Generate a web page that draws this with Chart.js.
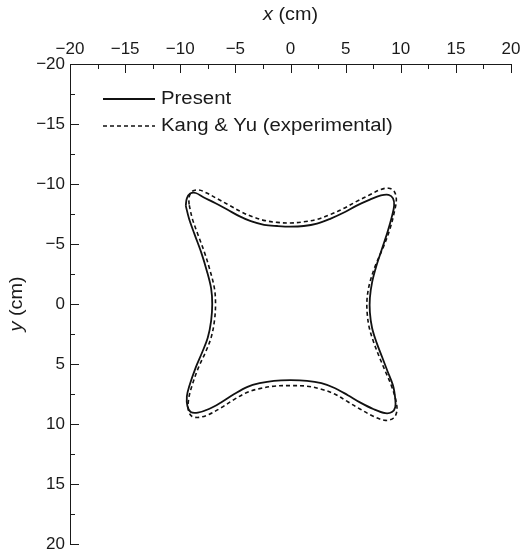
<!DOCTYPE html>
<html>
<head>
  <title>Present vs Kang &amp; Yu</title>
  <script src="https://cdn.jsdelivr.net/npm/chart.js@4/dist/chart.umd.min.js"></script>
  <style>
    html, body {
      margin: 0;
      padding: 0;
      background: #fff;
    }
  </style>
</head>
<body>
<canvas id="shapeChart" width="520" height="550"></canvas>

<script>
  // axis range and tick spacing (cm)
  const axisMin = -20;
  const axisMax = 20;
  const majorStep = 5;
  const minorStep = 2.5;

  // Present (solid), traced clockwise from the top-left corner
  const presentX = [-9.5, -9.4, -9.1, -8.6, -7.9, -6.8, -5.7, -4.6, -3.6, -2.4, -1.2, 0, 1.2, 2.4, 3.6, 4.8, 6.0, 7.2, 8.2, 8.9, 9.3, 9.4,
    9.2, 8.8, 8.3, 7.8, 7.4, 7.2, 7.2, 7.4, 7.8, 8.3, 8.8, 9.3, 9.5, 9.5, 9.2, 8.6,
    7.5, 6.3, 5.2, 4.0, 2.8, 1.5, 0, -1.5, -2.8, -3.9, -5.1, -6.3, -7.4, -8.4, -9.05, -9.35, -9.4,
    -9.2, -8.6, -8.0, -7.5, -7.2, -7.1, -7.2, -7.6, -8.1, -8.7, -9.2, -9.5];
  const presentY = [-8.2, -8.8, -9.2, -9.25, -8.9, -8.4, -7.85, -7.3, -6.9, -6.6, -6.5, -6.45, -6.5, -6.7, -7.1, -7.6, -8.2, -8.7, -9.05, -9.1, -8.8, -8.2,
    -7.3, -6.0, -4.6, -3.2, -1.8, -0.5, 0.7, 2.0, 3.2, 4.4, 5.6, 6.8, 7.9, 8.6, 9.0, 9.1,
    8.75, 8.2, 7.6, 7.0, 6.6, 6.4, 6.35, 6.4, 6.6, 6.9, 7.5, 8.2, 8.75, 9.05, 9.0, 8.5, 7.7,
    6.9, 5.3, 4.0, 2.8, 1.4, 0, -1.3, -2.8, -4.3, -5.8, -7.1, -8.2];

  // Kang & Yu (experimental, dashed)
  const kangX = [-9.2, -9.2, -8.9, -8.3, -7.6, -6.6, -5.5, -4.4, -3.4, -2.3, -1.2, 0, 1.2, 2.4, 3.6, 4.8, 6.0, 7.2, 8.2, 8.9, 9.4, 9.6,
    9.4, 9.0, 8.4, 7.7, 7.2, 6.95, 6.95, 7.15, 7.55, 8.05, 8.6, 9.15, 9.55, 9.65, 9.35, 8.6,
    7.5, 6.3, 5.2, 4.0, 2.8, 1.5, 0, -1.5, -2.8, -3.9, -5.1, -6.3, -7.4, -8.3, -8.95, -9.25, -9.25,
    -9.0, -8.35, -7.7, -7.2, -6.9, -6.8, -6.9, -7.3, -7.8, -8.4, -8.9, -9.2];
  const kangY = [-8.3, -8.9, -9.4, -9.5, -9.25, -8.75, -8.2, -7.65, -7.25, -6.95, -6.8, -6.75, -6.85, -7.05, -7.45, -7.95, -8.55, -9.1, -9.55, -9.65, -9.4, -8.7,
    -7.6, -6.2, -4.7, -3.2, -1.8, -0.5, 0.7, 2.0, 3.2, 4.4, 5.6, 6.8, 8.0, 8.9, 9.5, 9.7,
    9.35, 8.75, 8.15, 7.5, 7.1, 6.85, 6.8, 6.85, 7.05, 7.35, 7.95, 8.65, 9.2, 9.45, 9.35, 8.9, 8.0,
    7.0, 5.3, 4.0, 2.8, 1.4, 0, -1.3, -2.8, -4.3, -5.8, -7.1, -8.3];

  const FONT = 'Liberation Sans, Arial, Helvetica, sans-serif';
  const INK = '#1a1a1a';

  function toPoints(xs, ys) {
    return xs.map((x, i) => ({ x: x, y: ys[i] }));
  }

  function tickLabel(value) {
    if (value % majorStep !== 0) return '';
    return String(value).replace('-', '\u2212');
  }

  // the original lettering is a bit wider than Liberation Sans
  function wideText(ctx, text, x, y, stretch) {
    ctx.save();
    ctx.translate(x, y);
    ctx.scale(stretch, 1);
    ctx.fillText(text, 0, 0);
    ctx.restore();
    return ctx.measureText(text).width * stretch;
  }

  // short inward ticks, longer on the labelled ones
  const inwardTicks = {
    id: 'inwardTicks',
    afterDraw(chart) {
      const { ctx, chartArea: a } = chart;
      const xs = chart.scales.x;
      const ys = chart.scales.y;
      ctx.save();
      ctx.strokeStyle = INK;
      ctx.lineWidth = 1;
      xs.ticks.forEach(t => {
        const px = Math.round(xs.getPixelForValue(t.value)) + 0.5;
        const len = t.value % majorStep === 0 ? 9 : 5;
        ctx.beginPath();
        ctx.moveTo(px, a.top);
        ctx.lineTo(px, a.top + len);
        ctx.stroke();
      });
      ys.ticks.forEach(t => {
        const py = Math.round(ys.getPixelForValue(t.value)) + 0.5;
        const len = t.value % majorStep === 0 ? 9 : 5;
        ctx.beginPath();
        ctx.moveTo(a.left, py);
        ctx.lineTo(a.left + len, py);
        ctx.stroke();
      });
      ctx.restore();
    }
  };

  // axis titles with the italic variable name
  const axisTitles = {
    id: 'axisTitles',
    afterDraw(chart) {
      const { ctx, chartArea: a } = chart;
      const k = 1.1;
      ctx.save();
      ctx.fillStyle = INK;
      ctx.textBaseline = 'middle';
      ctx.textAlign = 'left';

      function drawTitle(cx, cy, v) {
        ctx.font = 'italic 18px ' + FONT;
        const w1 = ctx.measureText(v).width * k;
        ctx.font = '18px ' + FONT;
        const w2 = ctx.measureText(' (cm)').width * k;
        const x0 = cx - (w1 + w2) / 2;
        ctx.font = 'italic 18px ' + FONT;
        wideText(ctx, v, x0, cy, k);
        ctx.font = '18px ' + FONT;
        wideText(ctx, ' (cm)', x0 + w1, cy, k);
      }

      drawTitle((a.left + a.right) / 2, 15, 'x');
      ctx.translate(17, (a.top + a.bottom) / 2);
      ctx.rotate(-Math.PI / 2);
      drawTitle(0, 0, 'y');
      ctx.restore();
    }
  };

  // legend sitting inside the plot, top left
  const innerLegend = {
    id: 'innerLegend',
    afterDraw(chart) {
      const { ctx } = chart;
      ctx.save();
      ctx.font = '18px ' + FONT;
      ctx.textBaseline = 'middle';
      ctx.textAlign = 'left';
      chart.data.datasets.forEach((ds, i) => {
        const yy = 99 + i * 27;
        ctx.strokeStyle = ds.borderColor;
        ctx.lineWidth = ds.borderWidth;
        ctx.setLineDash(ds.borderDash || []);
        ctx.beginPath();
        ctx.moveTo(103, yy);
        ctx.lineTo(155, yy);
        ctx.stroke();
        ctx.setLineDash([]);
        ctx.fillStyle = INK;
        wideText(ctx, ds.label, 161, yy, 1.13);
      });
      ctx.restore();
    }
  };

  const ctx = document.getElementById('shapeChart').getContext('2d');
  const chart = new Chart(ctx, {
    type: 'scatter',
    data: {
      datasets: [
        {
          label: 'Present',
          data: toPoints(presentX, presentY),
          showLine: true,
          borderColor: '#111',
          borderWidth: 1.8,
          pointRadius: 0,
          tension: 0.35,
          fill: false
        },
        {
          label: 'Kang & Yu (experimental)',
          data: toPoints(kangX, kangY),
          showLine: true,
          borderColor: '#111',
          borderWidth: 1.6,
          borderDash: [4, 3],
          pointRadius: 0,
          tension: 0.35,
          fill: false
        }
      ]
    },
    options: {
      responsive: false,
      animation: false,
      layout: {
        padding: { left: 0, right: 9, top: 0, bottom: 6 }
      },
      plugins: {
        legend: { display: false },
        tooltip: { enabled: false }
      },
      scales: {
        x: {
          type: 'linear',
          position: 'top',
          min: axisMin,
          max: axisMax,
          afterFit: s => {
            s.height = 64;
            s.paddingLeft = 0;
            s.paddingRight = 0;
          },
          grid: { display: false, drawTicks: false },
          border: { display: true, color: INK, width: 1 },
          ticks: {
            stepSize: minorStep,
            autoSkip: false,
            maxRotation: 0,
            padding: 4,
            color: INK,
            font: { family: FONT, size: 17 },
            callback: tickLabel
          }
        },
        y: {
          type: 'linear',
          reverse: true,
          min: axisMin,
          max: axisMax,
          afterFit: s => {
            s.width = 70;
            s.paddingTop = 0;
            s.paddingBottom = 0;
          },
          grid: { display: false, drawTicks: false },
          border: { display: true, color: INK, width: 1 },
          ticks: {
            stepSize: minorStep,
            autoSkip: false,
            padding: 5,
            color: INK,
            font: { family: FONT, size: 17 },
            callback: tickLabel
          }
        }
      }
    },
    plugins: [inwardTicks, axisTitles, innerLegend]
  });
</script>
</body>
</html>
